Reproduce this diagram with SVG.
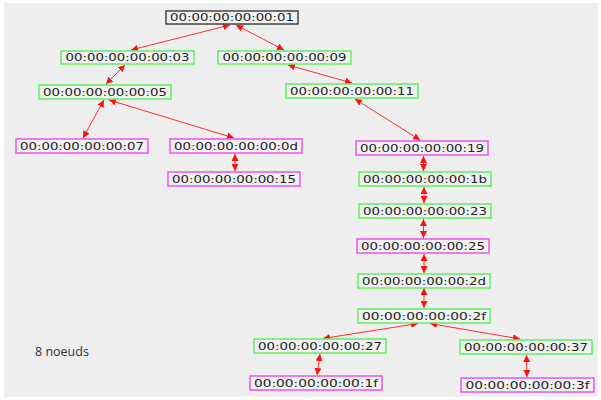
<svg xmlns="http://www.w3.org/2000/svg" width="601" height="400" viewBox="0 0 601 400">
<style>
.n rect{fill:#f2f2f2;stroke-width:1.5}
.g rect{stroke:#5ff05f}
.m rect{stroke:#f050f0}
.b rect{stroke:#444}
.n text{font-family:"DejaVu Sans",sans-serif;font-size:10.5px;fill:#222;text-anchor:middle}
.e line{stroke:#ff3030;stroke-width:1;marker-start:url(#ah);marker-end:url(#ah)}
</style>
<defs>
<marker id="ah" viewBox="0 0 10 10" refX="10" refY="5" markerWidth="7" markerHeight="7" markerUnits="userSpaceOnUse" orient="auto-start-reverse">
<path d="M0,0 L10,5 L0,10 z" fill="#ff1010"/>
</marker>
</defs>
<rect x="0" y="0" width="601" height="400" fill="#ffffff"/>
<rect x="4" y="3" width="594" height="394" fill="#eeeeee"/>
<g class="e">
<line x1="230" y1="25" x2="131" y2="50"/>
<line x1="236" y1="25" x2="284" y2="50"/>
<line x1="288" y1="65" x2="352" y2="83"/>
<line x1="125" y1="65" x2="106" y2="84"/>
<line x1="104" y1="100" x2="83" y2="138"/>
<line x1="109" y1="100" x2="234" y2="138"/>
<line x1="235" y1="154" x2="235" y2="171"/>
<line x1="355" y1="99" x2="420" y2="140"/>
<line x1="423.5" y1="156" x2="423.5" y2="171"/>
<line x1="424" y1="187" x2="424" y2="203"/>
<line x1="423.5" y1="219" x2="423.5" y2="238"/>
<line x1="424" y1="254" x2="424" y2="273"/>
<line x1="424" y1="288" x2="424" y2="308"/>
<line x1="418" y1="323.5" x2="323" y2="338.5"/>
<line x1="430" y1="323.5" x2="520" y2="339"/>
<line x1="320" y1="354" x2="317" y2="375"/>
<line x1="526.5" y1="355" x2="527" y2="377"/>
</g>
<g id="n01" class="n b"><rect x="166" y="11" width="132" height="13"/><text x="232" y="21" textLength="124" lengthAdjust="spacingAndGlyphs">00:00:00:00:00:01</text></g>
<g id="n03" class="n g"><rect x="61" y="51" width="133" height="13"/><text x="127.5" y="61" textLength="124" lengthAdjust="spacingAndGlyphs">00:00:00:00:00:03</text></g>
<g id="n09" class="n g"><rect x="218" y="51" width="133" height="13"/><text x="284.5" y="61" textLength="124" lengthAdjust="spacingAndGlyphs">00:00:00:00:00:09</text></g>
<g id="n05" class="n g"><rect x="39" y="85" width="132" height="14"/><text x="105" y="95.5" textLength="124" lengthAdjust="spacingAndGlyphs">00:00:00:00:00:05</text></g>
<g id="n11" class="n g"><rect x="286" y="84" width="132" height="14"/><text x="352" y="94.5" textLength="124" lengthAdjust="spacingAndGlyphs">00:00:00:00:00:11</text></g>
<g id="n07" class="n m"><rect x="16" y="139" width="132" height="14"/><text x="82" y="149.5" textLength="124" lengthAdjust="spacingAndGlyphs">00:00:00:00:00:07</text></g>
<g id="n0d" class="n m"><rect x="170" y="139" width="132" height="14"/><text x="236" y="149.5" textLength="124" lengthAdjust="spacingAndGlyphs">00:00:00:00:00:0d</text></g>
<g id="n15" class="n m"><rect x="168" y="172" width="132" height="14"/><text x="234" y="182.5" textLength="124" lengthAdjust="spacingAndGlyphs">00:00:00:00:00:15</text></g>
<g id="n19" class="n m"><rect x="356" y="141" width="132" height="14"/><text x="422" y="151.5" textLength="124" lengthAdjust="spacingAndGlyphs">00:00:00:00:00:19</text></g>
<g id="n1b" class="n g"><rect x="359" y="172" width="132" height="14"/><text x="425" y="182.5" textLength="124" lengthAdjust="spacingAndGlyphs">00:00:00:00:00:1b</text></g>
<g id="n23" class="n g"><rect x="359" y="204" width="132" height="14"/><text x="425" y="214.5" textLength="124" lengthAdjust="spacingAndGlyphs">00:00:00:00:00:23</text></g>
<g id="n25" class="n m"><rect x="357" y="239" width="132" height="14"/><text x="423" y="249.5" textLength="124" lengthAdjust="spacingAndGlyphs">00:00:00:00:00:25</text></g>
<g id="n2d" class="n g"><rect x="358" y="274" width="132" height="14"/><text x="424" y="284.5" textLength="124" lengthAdjust="spacingAndGlyphs">00:00:00:00:00:2d</text></g>
<g id="n2f" class="n g"><rect x="358" y="309" width="132" height="14"/><text x="424" y="319.5" textLength="124" lengthAdjust="spacingAndGlyphs">00:00:00:00:00:2f</text></g>
<g id="n27" class="n g"><rect x="254" y="339" width="132" height="14"/><text x="320" y="349.5" textLength="124" lengthAdjust="spacingAndGlyphs">00:00:00:00:00:27</text></g>
<g id="n37" class="n g"><rect x="460" y="340" width="132" height="14"/><text x="526" y="350.5" textLength="124" lengthAdjust="spacingAndGlyphs">00:00:00:00:00:37</text></g>
<g id="n1f" class="n m"><rect x="250" y="376" width="132" height="14"/><text x="316" y="386.5" textLength="124" lengthAdjust="spacingAndGlyphs">00:00:00:00:00:1f</text></g>
<g id="n3f" class="n m"><rect x="461" y="378" width="133" height="14"/><text x="527.5" y="388.5" textLength="124" lengthAdjust="spacingAndGlyphs">00:00:00:00:00:3f</text></g>
<text x="35" y="356" font-family="'Open Sans','Noto Sans',sans-serif" font-size="12.5" fill="#333">8 noeuds</text>
</svg>
